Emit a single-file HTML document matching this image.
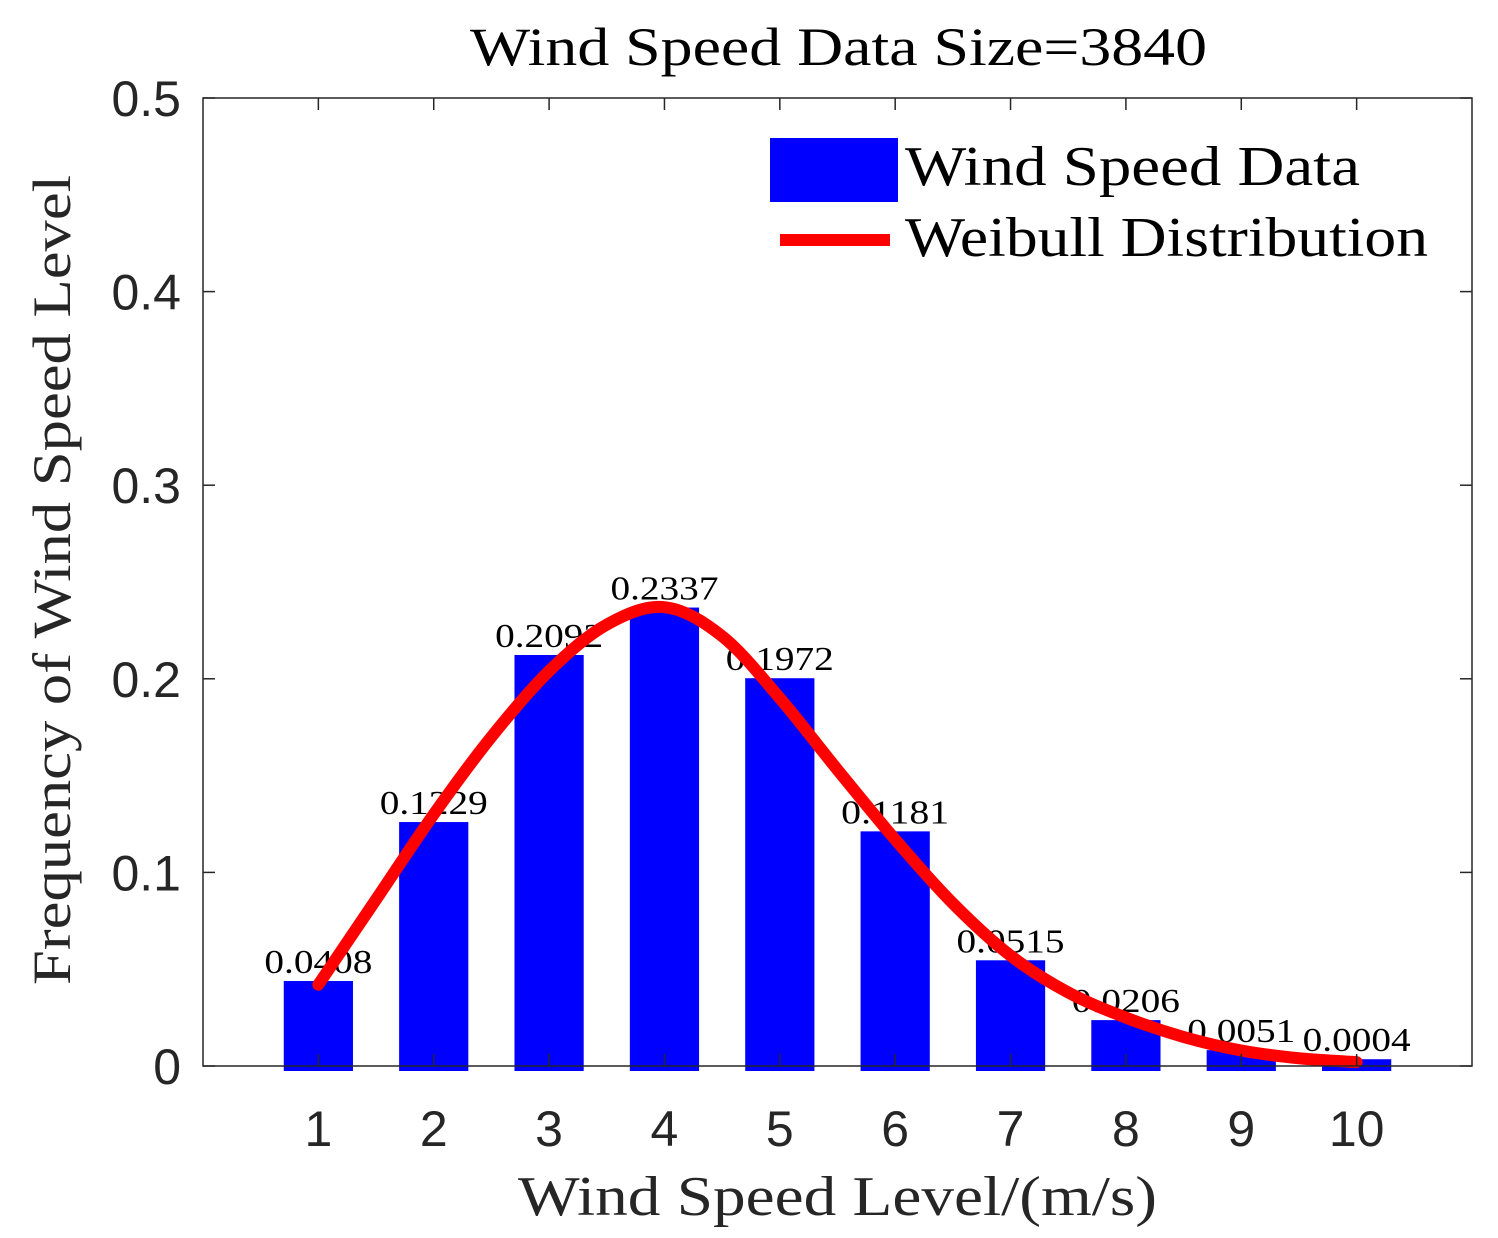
<!DOCTYPE html>
<html><head><meta charset="utf-8"><style>
html,body{margin:0;padding:0;background:#fff;}
svg{display:block;}
</style></head><body>
<svg id="chart" width="1498" height="1238" xmlns="http://www.w3.org/2000/svg">
<rect width="1498" height="1238" fill="#fff"/>
<g id="bars"></g>
<g id="labels"></g>
<path id="curve" fill="none" stroke="#ff0000" stroke-width="12" stroke-linecap="round" stroke-linejoin="round"/>
<rect x="203" y="98" width="1269" height="968" fill="none" stroke="#262626" stroke-width="1.5"/>
<g id="ticks" stroke="#262626" stroke-width="1.5"></g>
<g id="ytl" font-family="Liberation Sans, sans-serif" font-size="50" fill="#262626" text-anchor="end"></g>
<g id="xtl" font-family="Liberation Sans, sans-serif" font-size="50" fill="#262626" text-anchor="middle"></g>
<text x="470" y="65" textLength="737" lengthAdjust="spacingAndGlyphs" font-family="Liberation Serif, serif" font-size="54" fill="#000">Wind Speed Data Size=3840</text>
<text x="518" y="1215" textLength="639" lengthAdjust="spacingAndGlyphs" font-family="Liberation Serif, serif" font-size="56" fill="#262626">Wind Speed Level/(m/s)</text>
<text transform="translate(70,985) rotate(-90)" textLength="810" lengthAdjust="spacingAndGlyphs" font-family="Liberation Serif, serif" font-size="54" fill="#262626">Frequency of Wind Speed Level</text>
<g>
<rect x="770" y="138" width="128" height="64" fill="#0000ff"/>
<text x="905" y="185" textLength="455" lengthAdjust="spacingAndGlyphs" font-family="Liberation Serif, serif" font-size="56" fill="#000">Wind Speed Data</text>
<line x1="780" y1="240" x2="890" y2="240" stroke="#ff0000" stroke-width="12"/>
<text x="905" y="256" textLength="523" lengthAdjust="spacingAndGlyphs" font-family="Liberation Serif, serif" font-size="56" fill="#000">Weibull Distribution</text>
</g>
</svg>
<script>
const categories = [1,2,3,4,5,6,7,8,9,10];
const barValues = [0.0408,0.1229,0.2092,0.2337,0.1972,0.1181,0.0515,0.0206,0.0051,0.0004];
const barLabels = ["0.0408","0.1229","0.2092","0.2337","0.1972","0.1181","0.0515","0.0206","0.0051","0.0004"];
const curveX = [1,1.5,2,2.5,3,3.5,4,4.5,5,5.5,6,6.5,7,7.5,8,8.5,9,9.5,10];
const curveY = [0.042,0.086,0.13,0.17,0.204,0.228,0.237,0.222,0.19,0.153,0.117,0.084,0.057,0.038,0.025,0.015,0.008,0.004,0.002];
const yTicks = [0,0.1,0.2,0.3,0.4,0.5];
const yTickLabels = ["0","0.1","0.2","0.3","0.4","0.5"];
const xTicks = [1,2,3,4,5,6,7,8,9,10];
const xTickLabels = ["1","2","3","4","5","6","7","8","9","10"];

const NS="http://www.w3.org/2000/svg";
const L=203,R=1472,T=98,B=1066;
const xS=v=>L+(v-0)/11*(R-L);
const yS=v=>B-(v-0)/0.5*(B-T);
function mk(tag,attrs,parent){const e=document.createElementNS(NS,tag);for(const k in attrs)e.setAttribute(k,attrs[k]);parent.appendChild(e);return e;}

const bars=document.getElementById('bars'), labels=document.getElementById('labels');
categories.forEach((c,i)=>{
  const w=xS(0.6)-xS(0);
  const top=yS(barValues[i])-6;
  const r=mk('rect',{x:xS(c)-w/2,y:top,width:w,height:(B+5)-top,fill:'#0000ff'},bars);
  
  
  const t=mk('text',{x:xS(c)-54,y:yS(barValues[i])-14,textLength:'108',lengthAdjust:'spacingAndGlyphs','font-family':'Liberation Serif, serif','font-size':'34',fill:'#000'},labels);
  t.textContent=barLabels[i];
  
  
});
const pts=curveX.map((x,i)=>[xS(x),yS(curveY[i])]);
let d='M'+pts[0][0]+','+pts[0][1];
for(let i=0;i<pts.length-1;i++){
  const p0=pts[Math.max(0,i-1)],p1=pts[i],p2=pts[i+1],p3=pts[Math.min(pts.length-1,i+2)];
  const c1=[p1[0]+(p2[0]-p0[0])/6,p1[1]+(p2[1]-p0[1])/6];
  const c2=[p2[0]-(p3[0]-p1[0])/6,p2[1]-(p3[1]-p1[1])/6];
  d+=' C'+c1[0]+','+c1[1]+' '+c2[0]+','+c2[1]+' '+p2[0]+','+p2[1];
}
document.getElementById('curve').setAttribute('d',d);

const ticks=document.getElementById('ticks'),ytl=document.getElementById('ytl'),xtl=document.getElementById('xtl');
yTicks.forEach((v,i)=>{
  const y=yS(v);
  const a=mk('line',{x1:L,y1:y,x2:L+12,y2:y},ticks);
  
  
  const b=mk('line',{x1:R-12,y1:y,x2:R,y2:y},ticks);
  
  
  const t=mk('text',{x:181,y:y+18},ytl);
  t.textContent=yTickLabels[i];
  
  
});
xTicks.forEach((v,i)=>{
  const x=xS(v);
  const a=mk('line',{x1:x,y1:B,x2:x,y2:B-12},ticks);
  
  
  const b=mk('line',{x1:x,y1:T,x2:x,y2:T+12},ticks);
  
  
  const t=mk('text',{x:x,y:1146},xtl);
  t.textContent=xTickLabels[i];
  
  
});
</script>
</body></html>
